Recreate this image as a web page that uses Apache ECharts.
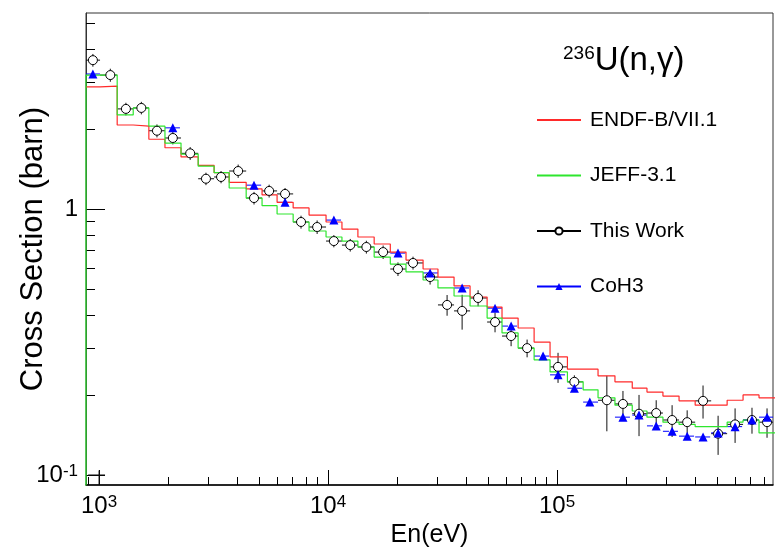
<!DOCTYPE html>
<html>
<head>
<meta charset="utf-8">
<script src="https://cdn.jsdelivr.net/npm/echarts@6/dist/echarts.min.js"></script>
<style>
html,body{margin:0;padding:0;background:#fff;}
#chart{width:780px;height:548px;}
</style>
</head>
<body>
<div id="chart"></div>
<script>
// ---------------- data ----------------
const binEdges = [877, 1010, 1200, 1410, 1650, 1940, 2280, 2710, 3180, 3700, 4390, 5150, 5990, 7040, 8260, 9800,
  11500, 13500, 15900, 18700, 21900, 26000, 30200, 35500, 41700, 49500, 57500, 67600, 79400, 93200,
  111000, 130000, 151000, 179000, 213000, 247000, 290000, 341000, 401000, 471000, 553000, 649000, 762000, 900000];
const binCenters = [940, 1120, 1310, 1530, 1790, 2100, 2500, 2930, 3410, 4050, 4750, 5530, 6490, 7620, 8960,
  10600, 12500, 14700, 17400, 20200, 23500, 27900, 33100, 38500, 45200, 53600, 63000, 74000, 86900,
  101000, 119000, 139000, 165000, 194000, 228000, 271000, 318000, 370000, 434000, 505000, 599000, 710000, 826000];
const endfValues = [2.88, 2.90, 2.07, 2.05, 1.83, 1.70, 1.57, 1.46, 1.37, 1.26, 1.19, 1.13, 1.06, 1.01, 0.949,
  0.894, 0.841, 0.785, 0.739, 0.689, 0.643, 0.595, 0.555, 0.514, 0.467, 0.428, 0.389, 0.357, 0.316, 0.278,
  0.250, 0.250, 0.236, 0.224, 0.212, 0.205, 0.198, 0.190, 0.183, 0.183, 0.191, 0.200, 0.195];
const jeffValues = [3.19, 3.19, 2.26, 2.40, 2.05, 1.77, 1.61, 1.45, 1.37, 1.20, 1.10, 1.03, 0.958, 0.894, 0.827,
  0.785, 0.758, 0.720, 0.660, 0.621, 0.580, 0.541, 0.505, 0.471, 0.432, 0.389, 0.342, 0.300, 0.271, 0.244,
  0.224, 0.209, 0.195, 0.183, 0.174, 0.165, 0.158, 0.155, 0.152, 0.152, 0.158, 0.161, 0.144];
const thisWorkValues = [3.63, 3.19, 2.38, 2.40, 1.97, 1.85, 1.62, 1.30, 1.32, 1.39, 1.10, 1.17, 1.14, 0.894, 0.856,
  0.758, 0.732, 0.720, 0.689, 0.595, 0.627, 0.555, 0.436, 0.414, 0.463, 0.376, 0.333, 0.300, null, 0.255,
  0.224, null, 0.191, 0.185, 0.170, 0.171, 0.161, 0.158, 0.190, 0.143, 0.155, 0.161, 0.158];
const thisWorkErrors = [0.20, 0.18, 0.13, 0.13, 0.11, 0.10, 0.09, 0.07, 0.07, 0.08, 0.06, 0.065, 0.06, 0.05, 0.05,
  0.04, 0.04, 0.04, 0.04, 0.035, 0.035, 0.035, 0.039, 0.062, 0.032, 0.032, 0.028, 0.023, null, 0.033,
  0.013, null, 0.045, 0.022, 0.030, 0.020, 0.022, 0.017, 0.027, 0.024, 0.023, 0.018, 0.020];
const coh3Values = [3.22, null, null, null, null, 2.02, null, null, null, null, 1.23, null, 1.06, null, null,
  0.909, null, null, null, 0.683, null, 0.575, null, 0.505, null, 0.424, 0.363, null, 0.280, 0.238,
  0.212, 0.188, null, 0.165, 0.168, 0.153, 0.146, 0.140, 0.139, 0.144, 0.152, 0.161, 0.165];
const offscalePoint = [1000, 0.1];
const offscaleXRange = [896, 1062];
const offscaleYRange = [0.09, 0.104];

const xMajorTicks = [1000, 10000, 100000];
const xMinorTicks = [900, 2000, 3000, 4000, 5000, 6000, 7000, 8000, 9000, 20000, 30000, 40000, 50000, 60000,
  70000, 80000, 90000, 200000, 300000, 400000, 500000, 600000, 700000, 800000];
const yMajorTicks = [0.1, 1];
const yMinorTicks = [0.2, 0.3, 0.4, 0.5, 0.6, 0.7, 0.8, 0.9, 2, 3, 4, 5];

const seriesNames = ['ENDF-B/VII.1', 'JEFF-3.1', 'This Work', 'CoH3'];
// ------------------------------------------------------------------------

const X_MIN = 877, X_MAX = 877000, Y_MIN = 0.0917, Y_MAX = 5.46;
const FONT = '"Liberation Sans", Arial, Helvetica, sans-serif';
const RED = '#ff2a2a', GREEN = '#2ee62e', BLUE = '#0000ff';

function stepData(values, fromBottom) {
  const pts = [];
  if (fromBottom) pts.push([binEdges[0], 0.03]);
  for (let i = 0; i < values.length; i++) pts.push([binEdges[i], values[i]]);
  pts.push([binEdges[values.length], values[values.length - 1]]);
  return pts;
}

const twErrData = [], twPoints = [], coBarData = [], coPoints = [];
for (let i = 0; i < binCenters.length; i++) {
  if (thisWorkValues[i] != null) {
    const v = thisWorkValues[i], e = thisWorkErrors[i];
    twErrData.push([binCenters[i], v, binEdges[i], binEdges[i + 1], v - e, v + e]);
    twPoints.push([binCenters[i], v]);
  }
  if (coh3Values[i] != null) {
    coBarData.push([binCenters[i], coh3Values[i], binEdges[i], binEdges[i + 1]]);
    coPoints.push([binCenters[i], coh3Values[i]]);
  }
}
const offscaleData = [[offscalePoint[0], offscalePoint[1], offscaleXRange[0], offscaleXRange[1], offscaleYRange[0], offscaleYRange[1]]];

function clampX(v, cs) { return Math.max(cs.x, Math.min(cs.x + cs.width, v)); }
function clampY(v, cs) { return Math.max(cs.y, Math.min(cs.y + cs.height, v)); }

function renderErr(params, api) {
  const cs = params.coordSys;
  const x = api.value(0), y = api.value(1);
  const c = api.coord([x, y]);
  const l = api.coord([api.value(2), y]);
  const r = api.coord([api.value(3), y]);
  const lo = api.coord([x, api.value(4)]);
  const hi = api.coord([x, api.value(5)]);
  const st = { stroke: '#111', lineWidth: 1 };
  return {
    type: 'group',
    children: [
      { type: 'line', shape: { x1: clampX(l[0], cs), y1: c[1], x2: clampX(r[0], cs), y2: c[1] }, style: st },
      { type: 'line', shape: { x1: c[0], y1: clampY(lo[1], cs), x2: c[0], y2: clampY(hi[1], cs) }, style: st }
    ]
  };
}
function renderDash(params, api) {
  const cs = params.coordSys;
  const y = api.value(1);
  const l = api.coord([api.value(2), y]);
  const r = api.coord([api.value(3), y]);
  return {
    type: 'line',
    shape: { x1: clampX(l[0], cs), y1: l[1], x2: clampX(r[0], cs), y2: l[1] },
    style: { stroke: BLUE, lineWidth: 1, lineDash: [6, 3] }
  };
}

function powLabel(v) {
  const e = Math.round(Math.log10(v));
  if (e === 0) return '{b|1}';
  return '{b|10}{s|' + e + '}';
}
const labelRich = {
  b: { fontSize: 24, fontFamily: FONT, fontWeight: 'normal', color: '#000', lineHeight: 24, padding: [5, 0, 0, 0], verticalAlign: 'bottom' },
  s: { fontSize: 17, fontFamily: FONT, fontWeight: 'normal', color: '#000', lineHeight: 17, verticalAlign: 'top' }
};

function logAxis(extra) {
  return Object.assign({
    type: 'log', logBase: 10, gridIndex: 0,
    splitLine: { show: false }, minorTick: { show: false }, minorSplitLine: { show: false },
    axisPointer: { show: false }
  }, extra);
}

const chart = echarts.init(document.getElementById('chart'), null, { renderer: 'canvas' });
chart.setOption({
  animation: false,
  backgroundColor: '#fff',
  textStyle: { fontFamily: FONT },
  tooltip: { show: false },
  title: {
    text: '{s|236}{b|U(n,γ)}',
    left: 563, top: 44, padding: 0,
    textStyle: {
      fontWeight: 'normal',
      rich: {
        s: { fontSize: 19, fontFamily: FONT, fontWeight: 'normal', color: '#000', lineHeight: 19, verticalAlign: 'top' },
        b: { fontSize: 33, fontFamily: FONT, fontWeight: 'normal', color: '#000', lineHeight: 33, padding: [6, 0, 0, 0], verticalAlign: 'bottom' }
      }
    }
  },
  legend: {
    data: [
      { name: seriesNames[0], itemStyle: { opacity: 0 } },
      { name: seriesNames[1], itemStyle: { opacity: 0 } },
      { name: seriesNames[2] },
      { name: seriesNames[3] }
    ],
    orient: 'vertical',
    left: 536, top: 108, padding: 0,
    itemWidth: 44, itemHeight: 9, itemGap: 31.5,
    selectedMode: false,
    lineStyle: { opacity: 1 },
    textStyle: { fontSize: 21, fontFamily: FONT, color: '#000', lineHeight: 24, padding: [0, 0, 0, 4] }
  },
  grid: {
    left: 86, top: 13, width: 687, height: 472,
    show: true, borderColor: '#333', borderWidth: 1, backgroundColor: 'transparent',
    containLabel: false, outerBoundsMode: 'none'
  },
  xAxis: [
    logAxis({
      min: X_MIN, max: X_MAX, position: 'bottom',
      axisLine: { show: true, lineStyle: { color: '#000', width: 1.5 } },
      axisTick: { show: true, inside: true, length: 15, customValues: xMajorTicks, lineStyle: { color: '#000', width: 1 } },
      axisLabel: { show: true, customValues: xMajorTicks, formatter: powLabel, rich: labelRich, margin: 9, hideOverlap: false },
      name: 'En(eV)', nameLocation: 'middle', nameGap: 31,
      nameTextStyle: { fontSize: 25, fontFamily: FONT, color: '#000' }
    }),
    logAxis({
      min: X_MIN, max: X_MAX, position: 'bottom',
      axisLine: { show: false },
      axisTick: { show: true, inside: true, length: 8, customValues: xMinorTicks, lineStyle: { color: '#000', width: 1 } },
      axisLabel: { show: false }
    })
  ],
  yAxis: [
    logAxis({
      min: Y_MIN, max: Y_MAX, position: 'left',
      axisLine: { show: true, lineStyle: { color: '#333', width: 1 } },
      axisTick: { show: true, inside: true, length: 19, customValues: yMajorTicks, lineStyle: { color: '#000', width: 1 } },
      axisLabel: { show: true, customValues: yMajorTicks, formatter: powLabel, rich: labelRich, margin: 8, hideOverlap: false },
      name: 'Cross Section (barn)', nameLocation: 'middle', nameGap: 37, nameMoveOverlap: false,
      nameTextStyle: { fontSize: 31, fontFamily: FONT, color: '#000' }
    }),
    logAxis({
      min: Y_MIN, max: Y_MAX, position: 'left',
      axisLine: { show: false },
      axisTick: { show: true, inside: true, length: 9, customValues: yMinorTicks, lineStyle: { color: '#000', width: 1 } },
      axisLabel: { show: false }
    })
  ],
  series: [
    {
      name: seriesNames[0], type: 'line', step: 'end', data: stepData(endfValues, false),
      symbol: 'none', silent: true, clip: true,
      lineStyle: { color: RED, width: 1.2 }, itemStyle: { color: RED }
    },
    {
      name: seriesNames[1], type: 'line', step: 'end', data: stepData(jeffValues, true),
      symbol: 'none', silent: true, clip: true,
      lineStyle: { color: GREEN, width: 1.2 }, itemStyle: { color: GREEN }
    },
    {
      name: 'twErr', type: 'custom', renderItem: renderErr, data: twErrData,
      encode: { x: 0, y: 1 }, silent: true
    },
    {
      name: 'offscale', type: 'custom', renderItem: renderErr, data: offscaleData,
      encode: { x: 0, y: 1 }, silent: true
    },
    {
      name: 'coBars', type: 'custom', renderItem: renderDash, data: coBarData,
      encode: { x: 0, y: 1 }, silent: true
    },
    {
      name: seriesNames[2], type: 'line', data: twPoints,
      symbol: 'circle', symbolSize: 9, showSymbol: true, silent: true,
      lineStyle: { color: '#000', width: 1, opacity: 0 },
      itemStyle: { color: '#fff', borderColor: '#000', borderWidth: 1 }
    },
    {
      name: seriesNames[3], type: 'line', data: coPoints,
      symbol: 'triangle', symbolSize: 9, showSymbol: true, silent: true,
      lineStyle: { color: BLUE, width: 1, opacity: 0 },
      itemStyle: { color: BLUE, borderWidth: 0 }
    }
  ]
});
</script>
</body>
</html>
